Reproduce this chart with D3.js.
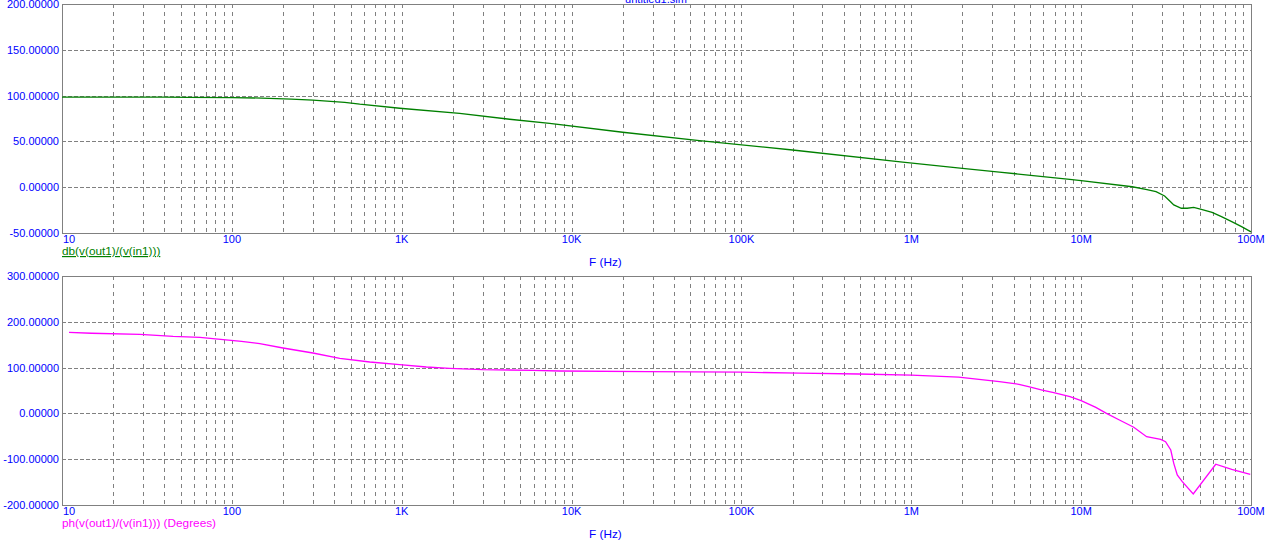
<!DOCTYPE html>
<html><head><meta charset="utf-8">
<script src="https://cdn.jsdelivr.net/npm/d3@7"></script>
<style>
html,body{margin:0;padding:0;background:#fff;overflow:hidden;}
svg{display:block;}
text{font-family:"Liberation Sans",Arial,sans-serif;font-size:11px;}
</style></head>
<body>
<svg id="chart" width="1275" height="545"></svg>
<script>
// ---- data ----
const title = "untitled1.sim";
const xTickValues = [1e1, 1e2, 1e3, 1e4, 1e5, 1e6, 1e7, 1e8];
const xTickLabels = ["10", "100", "1K", "10K", "100K", "1M", "10M", "100M"];
const dbTicks = [200, 150, 100, 50, 0, -50];
const phTicks = [300, 200, 100, 0, -100, -200];
const dbFreq = [10, 20, 40, 55, 100, 150, 224, 300, 462, 566, 973, 2193, 4315, 7430, 20000, 56600, 200000, 890000, 2.0e6, 3.3e6, 8.3e6, 10e6, 20e6, 24e6, 27.6e6, 31e6, 33.6e6, 35.1e6, 38.9e6, 42.1e6, 46e6, 51e6, 59e6, 67e6, 77e6, 88e6, 100e6];
const dbVals = [98.4, 98.4, 98.3, 98.0, 97.8, 97.3, 96.2, 95.0, 92.7, 90.6, 86.2, 80.7, 74.2, 69.7, 60.0, 50.8, 40.6, 27.4, 20.6, 16.5, 8.8, 7.2, 0.5, -2.3, -4.9, -9.6, -15.8, -19.4, -23, -23, -22, -24.1, -27.4, -32.2, -37.6, -43, -48.8];
const phFreq = [11, 14.9, 28.8, 36.1, 45.1, 64.9, 88.9, 114, 146, 200, 300, 432, 649, 973, 1396, 1913, 3000, 5900, 8500, 28000, 100000, 220000, 490000, 1e6, 1.9e6, 3.3e6, 4.3e6, 4.9e6, 5.9e6, 6.9e6, 8.6e6, 10e6, 12.2e6, 14.1e6, 16.8e6, 20.4e6, 24.3e6, 29.4e6, 31.4e6, 33.7e6, 35.1e6, 36.8e6, 39.4e6, 45.7e6, 62e6, 77e6, 99e6];
const phVals = [177, 175, 172.7, 170.5, 168.3, 166, 160.9, 157.4, 152.2, 142.8, 131.9, 120.3, 112.2, 106.3, 101.3, 98.5, 95.5, 94.1, 92.6, 91, 90, 88, 86, 83.5, 79, 69.2, 63.5, 58.3, 51, 45.3, 36.6, 27.9, 13.3, 0.2, -14.4, -30.3, -50.8, -56.6, -61.8, -79.9, -109, -134.5, -149, -176, -111, -122, -133];

// ---- layout ----
const svg = d3.select("#chart");
const L = 62, R = 1251;
const BLUE = "#0000ff", GRID = "#808080";
const x = d3.scaleLog().domain([10, 1e8]).range([L, R]);

function panel(top, bottom, yDomain, yTicks, freq, vals, color, label) {
  const y = d3.scaleLinear().domain(yDomain).range([bottom, top]);
  const g = svg.append("g");
  // vertical grid (all 1..9 per decade)
  const vgrid = [];
  for (let e = 1; e < 8; e++) for (let m = 1; m <= 9; m++) {
    const v = m * Math.pow(10, e);
    if (v > 10 && v < 1e8) vgrid.push(v);
  }
  g.selectAll("line.v").data(vgrid).join("line")
    .attr("x1", d => Math.round(x(d)) + 0.5).attr("x2", d => Math.round(x(d)) + 0.5)
    .attr("y1", top).attr("y2", bottom)
    .attr("stroke", GRID).attr("stroke-dasharray", "4,4")
    .attr("shape-rendering", "crispEdges");
  // horizontal grid
  g.selectAll("line.h").data(yTicks.slice(1, -1)).join("line")
    .attr("x1", L).attr("x2", R)
    .attr("y1", d => Math.round(y(d)) + 0.5).attr("y2", d => Math.round(y(d)) + 0.5)
    .attr("stroke", GRID).attr("stroke-dasharray", "4,2")
    .attr("shape-rendering", "crispEdges");
  // border
  g.append("rect").attr("x", L + 0.5).attr("y", top + 0.5)
    .attr("width", R - L).attr("height", bottom - top)
    .attr("fill", "none").attr("stroke", GRID).attr("shape-rendering", "crispEdges");
  // y labels
  g.selectAll("text.y").data(yTicks).join("text")
    .attr("x", 59).attr("y", d => y(d) + 4).attr("text-anchor", "end")
    .attr("fill", BLUE).text(d => d.toFixed(5));
  // x labels
  g.selectAll("text.x").data(xTickValues).join("text")
    .attr("x", (d, i) => i === 0 ? L + 1 : x(d))
    .attr("y", bottom + 10)
    .attr("text-anchor", (d, i) => i === 0 ? "start" : "middle")
    .attr("fill", BLUE).text((d, i) => xTickLabels[i]);
  // curve
  const pts = freq.map((f, i) => [f, vals[i]]);
  g.append("path").datum(pts)
    .attr("d", d3.line().x(d => x(d[0])).y(d => y(d[1])))
    .attr("fill", "none").attr("stroke", color).attr("stroke-width", 1.3);
  // trace label
  const t = g.append("text").attr("x", L).attr("y", bottom + 22)
    .attr("fill", color).style("font-size", "11.8px").text(label);
  if (color === "#008000") t.attr("text-decoration", "underline");
  g.append("text").attr("x", 589).attr("y", bottom + 33).attr("fill", BLUE)
    .style("font-size", "11.8px").text("F (Hz)");
}

svg.append("text").attr("x", 656).attr("y", 3).attr("text-anchor", "middle")
  .attr("fill", BLUE).text(title);

panel(4, 233, [-50, 200], dbTicks, dbFreq, dbVals, "#008000", "db(v(out1)/(v(in1)))");
panel(276, 505, [-200, 300], phTicks, phFreq, phVals, "#ff00ff", "ph(v(out1)/(v(in1))) (Degrees)");
</script>
</body></html>
